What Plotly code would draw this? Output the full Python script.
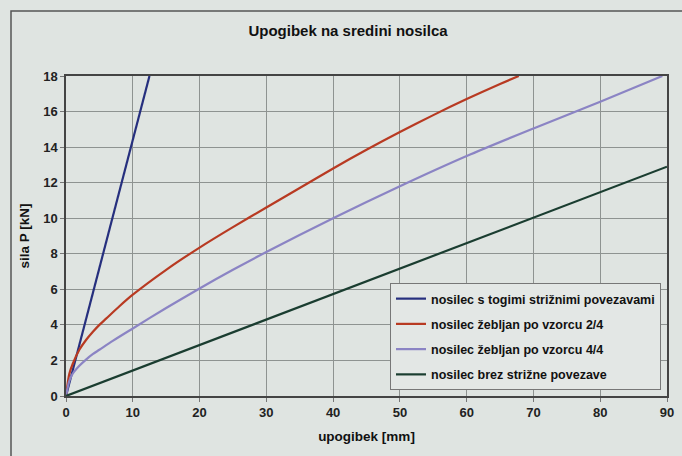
import plotly.graph_objects as go

title = "Upogibek na sredini nosilca"
x_title = "upogibek [mm]"
y_title = "sila P [kN]"

names = [
    "nosilec s togimi strižnimi povezavami",
    "nosilec žebljan po vzorcu 2/4",
    "nosilec žebljan po vzorcu 4/4",
    "nosilec brez strižne povezave",
]

blue_x = [0, 12.5]
blue_y = [0, 18]

red_x = [0, 0.5, 1, 2, 3, 4, 5, 6, 8, 10, 15, 20, 25, 30, 35, 40, 45, 50, 55, 60, 65, 67.8]
red_y = [0, 1.25, 1.8, 2.6, 3.15, 3.6, 4.0, 4.35, 5.05, 5.7, 7.1, 8.35, 9.5, 10.6, 11.7, 12.8, 13.85, 14.85, 15.8, 16.7, 17.55, 18.0]

purple_x = [0, 0.5, 1, 2, 3, 4, 5, 7, 10, 15, 20, 25, 30, 40, 50, 60, 70, 80, 89.3]
purple_y = [0, 0.85, 1.25, 1.7, 2.05, 2.35, 2.6, 3.1, 3.8, 4.95, 6.05, 7.1, 8.1, 10.0, 11.8, 13.5, 15.05, 16.55, 18.0]

green_x = [0, 90]
green_y = [0, 12.9]

x_ticks = [0, 10, 20, 30, 40, 50, 60, 70, 80, 90]
y_ticks = [0, 2, 4, 6, 8, 10, 12, 14, 16, 18]

colors = ["#262f7e", "#b83a22", "#8b84c4", "#1a3d30"]
series = [(blue_x, blue_y), (red_x, red_y), (purple_x, purple_y), (green_x, green_y)]

bg = "#dfe4e1"
font = "Liberation Sans, Arial, sans-serif"

fig = go.Figure()
for i, ((xs, ys), name, c) in enumerate(zip(series, names, colors)):
    fig.add_trace(go.Scatter(
        x=xs, y=ys, mode="lines", name=name, legendgroup=str(i),
        line=dict(color=c, width=2.2, shape="spline", smoothing=0.8),
    ))

axis_common = dict(
    showgrid=True, gridcolor="#8e9391", gridwidth=1,
    showline=True, linecolor="#444", linewidth=1.5, mirror=True,
    ticks="outside", ticklen=4, tickcolor="#777",
    tickfont=dict(family=font, size=13, color="#222", weight="bold"),
    zeroline=False, automargin=False,
)

fig.update_layout(
    width=682, height=456,
    margin=dict(l=66, r=15, t=76, b=60, autoexpand=False),
    paper_bgcolor=bg, plot_bgcolor=bg,
    font=dict(family=font, color="#222"),
    title=dict(text="<b>" + title + "</b>", x=348 / 682, xanchor="center",
               y=1 - 31 / 456, yanchor="middle",
               font=dict(family=font, size=15, color="#111")),
    xaxis=dict(range=[0, 90], tickvals=x_ticks,
               title=dict(text="<b>" + x_title + "</b>", font=dict(family=font, size=13.5, color="#111"), standoff=12),
               **axis_common),
    yaxis=dict(range=[0, 18], tickvals=y_ticks,
               title=dict(text="<b>" + y_title + "</b>", font=dict(family=font, size=13.5, color="#111"), standoff=10),
               **axis_common),
    legend=dict(
        x=(390 - 66) / 601, y=(396 - 283) / 320, xanchor="left", yanchor="top",
        bgcolor="#e3e7e5", bordercolor="#777", borderwidth=1,
        font=dict(family=font, size=12.5, color="#111", weight="bold"),
        tracegroupgap=6, itemwidth=30,
    ),
    shapes=[dict(type="rect", xref="paper", yref="paper",
                 x0=(11 - 66) / 601, x1=1.1, y0=-0.3, y1=(396 - 11) / 320,
                 line=dict(color="#555", width=1.5), fillcolor="rgba(0,0,0,0)", layer="below")],
)

fig.write_html("out.html", config={"displayModeBar": False},
               post_script="document.body.style.margin='0px';document.body.style.background='%s';" % bg)
